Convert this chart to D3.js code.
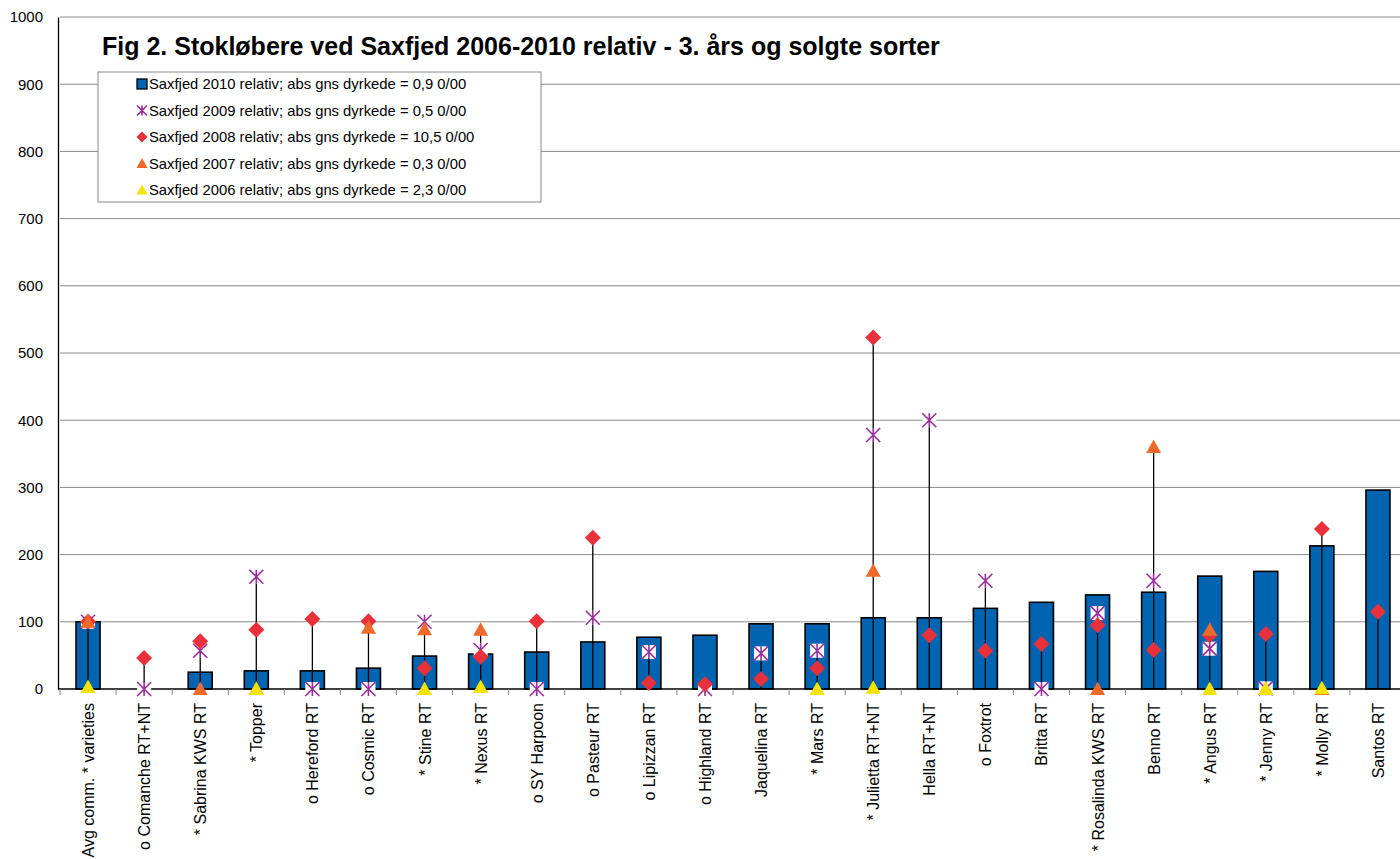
<!DOCTYPE html>
<html>
<head>
<meta charset="utf-8">
<script src="https://cdn.jsdelivr.net/npm/d3@7"></script>
<style>
  body { margin: 0; background: #fff; }
  svg { font-family: "Liberation Sans", Arial, sans-serif; }
</style>
</head>
<body>
<div id="chart"></div>
<script>
// ---------- data ----------
const sorter = ["Avg comm. * varieties", "o Comanche RT+NT", "* Sabrina KWS RT", "* Topper",
  "o Hereford RT", "o Cosmic RT", "* Stine RT", "* Nexus RT", "o SY Harpoon", "o Pasteur RT",
  "o Lipizzan RT", "o Highland RT", "Jaquelina RT", "* Mars RT", "* Julietta RT+NT", "Hella RT+NT",
  "o Foxtrot", "Britta RT", "* Rosalinda KWS RT", "Benno RT", "* Angus RT", "* Jenny RT",
  "* Molly RT", "Santos RT"]

const saxfjed2010 = [100, 0, 25, 27, 27, 31, 49, 52, 55, 70, 77, 80, 97, 97, 106, 106, 120, 129, 140, 144, 168, 175, 213, 296]
const saxfjed2009 = [100, 0, 57, 167, 0, 0, 100, 58, 0, 106, 55, 0, 53, 57, 378, 400, 161, 0, 113, 161, 60, 1, null, null]
const saxfjed2008 = [100, 46, 71, 88, 104, 101, 31, 48, 101, 225, 9, 7, 15, 31, 523, 80, 57, 67, 95, 58, 80, 82, 238, 115]
const saxfjed2007 = [100, null, 0, 0, null, 91, 89, 88, null, null, null, null, null, null, 176, null, null, null, 0, 360, 88, 0, 0, null]
const saxfjed2006 = [3, null, null, 0, null, null, 0, 3, null, null, null, null, null, 0, 2, null, null, null, null, null, 0, 0, 1, null]

const yTicks = d3.range(0, 1001, 100)

const titel = "Fig 2. Stokløbere ved Saxfjed 2006-2010 relativ - 3. års og solgte sorter"
const legendTekst = [
  "Saxfjed 2010 relativ; abs gns dyrkede = 0,9 0/00",
  "Saxfjed 2009 relativ; abs gns dyrkede = 0,5 0/00",
  "Saxfjed 2008 relativ; abs gns dyrkede = 10,5 0/00",
  "Saxfjed 2007 relativ; abs gns dyrkede = 0,3 0/00",
  "Saxfjed 2006 relativ; abs gns dyrkede = 2,3 0/00"
]

// ---------- layout ----------
const width = 1400, height = 859
const margin = { top: 17, left: 60, right: -6, bottom: 170 }
const farver = { bar: "#0064B1", x: "#9B2C9B", diamant: "#E8313A", orange: "#EE6A2A", gul: "#F4E300" }

const svg = d3.select("#chart").append("svg")
  .attr("width", width).attr("height", height)

const x = d3.scaleBand()
  .domain(sorter)
  .range([margin.left, width - margin.right])
  .padding(0)

const y = d3.scaleLinear()
  .domain([0, 1000])
  .range([height - margin.bottom, margin.top])

const barW = 24

// gridlines
svg.append("g")
  .selectAll("line")
  .data(yTicks.filter(t => t > 0))
  .enter().append("line")
  .attr("x1", margin.left).attr("x2", width)
  .attr("y1", d => y(d)).attr("y2", d => y(d))
  .attr("stroke", "#8a8a8a").attr("stroke-width", 1)

// y axis
const yAxis = svg.append("g")
  .attr("transform", `translate(${margin.left - 2},0)`)
  .call(d3.axisLeft(y).tickValues(yTicks).tickSize(0).tickPadding(15).tickFormat(d3.format("d")))
yAxis.select(".domain").attr("stroke", "#000").attr("stroke-width", 1.3)
yAxis.selectAll("text").attr("font-size", "15px").attr("fill", "#000")
  .attr("font-family", "'Liberation Sans', Arial, sans-serif")

// bars 2010
svg.append("g")
  .selectAll("rect")
  .data(sorter.map((c, i) => ({ c, v: saxfjed2010[i] })).filter(d => d.v > 0))
  .enter().append("rect")
  .attr("x", d => x(d.c) + (x.bandwidth() - barW) / 2)
  .attr("y", d => y(d.v))
  .attr("width", barW)
  .attr("height", d => y(0) - y(d.v))
  .attr("fill", farver.bar)
  .attr("stroke", "#000").attr("stroke-width", 1.6)

// high-low lines
const serier = [saxfjed2009, saxfjed2008, saxfjed2007, saxfjed2006]
const hoejLav = sorter.map((c, i) => {
  const vals = serier.map(s => s[i]).filter(v => v != null)
  return { c, hi: d3.max(vals), lo: Math.min(0, d3.min(vals)) }
})
svg.append("g")
  .selectAll("line")
  .data(hoejLav)
  .enter().append("line")
  .attr("x1", d => x(d.c) + x.bandwidth() / 2)
  .attr("x2", d => x(d.c) + x.bandwidth() / 2)
  .attr("y1", d => y(d.hi)).attr("y2", d => y(d.lo))
  .attr("stroke", "#000").attr("stroke-width", 1.3)

// x axis
const xAxisG = svg.append("g")
  .attr("transform", `translate(0,${y(0)})`)
xAxisG.append("line")
  .attr("x1", margin.left - 2).attr("x2", width)
  .attr("stroke", "#000").attr("stroke-width", 1.6)
xAxisG.selectAll(".tk")
  .data(sorter)
  .enter().append("line")
  .attr("class", "tk")
  .attr("x1", d => x(d)).attr("x2", d => x(d))
  .attr("y1", 0).attr("y2", 6)
  .attr("stroke", "#888")
xAxisG.selectAll(".lbl")
  .data(sorter)
  .enter().append("text")
  .attr("class", "lbl")
  .attr("transform", d => `translate(${x(d) + x.bandwidth() / 2 + 6},14) rotate(-90)`)
  .attr("text-anchor", "end")
  .attr("font-size", "16px")
  .text(d => d)

// marker shapes
function stjerne(g, px, py, s, medFyld) {
  if (medFyld) {
    g.append("rect").attr("x", px - s).attr("y", py - s).attr("width", 2 * s).attr("height", 2 * s)
      .attr("fill", "#fff")
  }
  g.append("path")
    .attr("d", `M${px - s},${py - s}L${px + s},${py + s}M${px - s},${py + s}L${px + s},${py - s}M${px},${py - s}L${px},${py + s}`)
    .attr("stroke", farver.x).attr("stroke-width", 1.6).attr("fill", "none")
}
function diamant(g, px, py, s, farve) {
  g.append("path")
    .attr("d", `M${px},${py - s}L${px + s},${py}L${px},${py + s}L${px - s},${py}Z`)
    .attr("fill", farve)
}
function trekant(g, px, py, s, farve) {
  g.append("path")
    .attr("d", `M${px},${py - s}L${px + s},${py + s * 0.8}L${px - s},${py + s * 0.8}Z`)
    .attr("fill", farve)
}

const markerG = svg.append("g")
sorter.forEach((c, i) => {
  const cx = x(c) + x.bandwidth() / 2
  if (saxfjed2009[i] != null) stjerne(markerG, cx, y(saxfjed2009[i]), 7, true)
})
sorter.forEach((c, i) => {
  const cx = x(c) + x.bandwidth() / 2
  if (saxfjed2008[i] != null) diamant(markerG, cx, y(saxfjed2008[i]), 8, farver.diamant)
})
sorter.forEach((c, i) => {
  const cx = x(c) + x.bandwidth() / 2
  if (saxfjed2007[i] != null) trekant(markerG, cx, y(saxfjed2007[i]), 7.5, farver.orange)
})
sorter.forEach((c, i) => {
  const cx = x(c) + x.bandwidth() / 2
  if (saxfjed2006[i] != null) trekant(markerG, cx, y(saxfjed2006[i]), 7.5, farver.gul)
})

// title
svg.append("text")
  .attr("x", 102).attr("y", 55)
  .attr("font-size", "25px").attr("font-weight", "bold")
  .text(titel)

// legend
const lg = svg.append("g")
lg.append("rect")
  .attr("x", 98).attr("y", 72).attr("width", 443).attr("height", 130)
  .attr("fill", "#fff").attr("stroke", "#888").attr("stroke-width", 1)
legendTekst.forEach((t, i) => {
  const ly = 84 + i * 26.5
  const mx = 142
  if (i === 0) {
    lg.append("rect").attr("x", mx - 5).attr("y", ly - 5).attr("width", 10).attr("height", 10)
      .attr("fill", farver.bar).attr("stroke", "#000").attr("stroke-width", 1.3)
  } else if (i === 1) {
    stjerne(lg, mx, ly, 5, false)
  } else if (i === 2) {
    diamant(lg, mx, ly, 5.5, farver.diamant)
  } else if (i === 3) {
    trekant(lg, mx, ly, 5.5, farver.orange)
  } else {
    trekant(lg, mx, ly, 5.5, farver.gul)
  }
  lg.append("text")
    .attr("x", 149).attr("y", ly + 5)
    .attr("font-size", "14.8px")
    .text(t)
})
</script>
</body>
</html>
